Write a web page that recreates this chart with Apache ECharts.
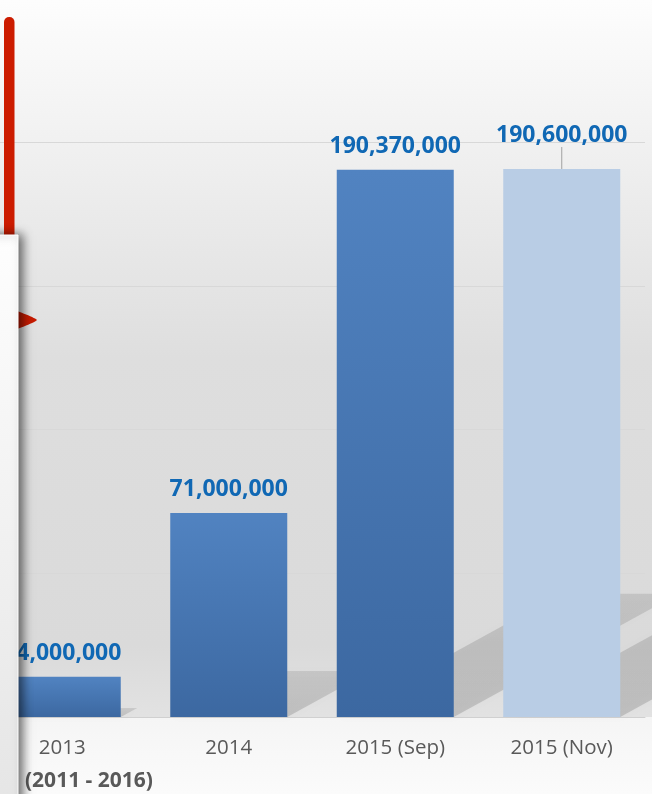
<!DOCTYPE html>
<html>
<head>
<meta charset="utf-8">
<script src="https://cdn.jsdelivr.net/npm/echarts@6/dist/echarts.min.js"></script>
<style>
  html, body { margin: 0; padding: 0; background: #ffffff; overflow: hidden; }
  #chart { width: 673px; height: 794px; margin-left: -21px; }
</style>
</head>
<body>
<div id="chart"></div>
<script>
// ---- data ----
const categories = ['2013', '2014', '2015 (Sep)', '2015 (Nov)'];
const values = [14000000, 71000000, 190370000, 190600000];
const axisTitle = '(2011 - 2016)';
const yMin = 0;
const yMax = 200000000;
const yInterval = 50000000;

// the chart canvas starts 21px left of the visible page
const OX = 21;

const chart = echarts.init(document.getElementById('chart'));
const fmt = v => Number(v).toLocaleString('en-US');

const darkBar = new echarts.graphic.LinearGradient(0, 0, 0, 1, [
  { offset: 0, color: '#5183c1' },
  { offset: 1, color: '#3c68a1' }
]);
const lightBar = '#b9cde5';

function renderShadow(params, api) {
  const idx = api.value(0);
  const v = api.value(1);
  const base = api.coord([idx, 0]);
  const top = api.coord([idx, v]);
  const h = base[1] - top[1];
  const bw = api.size([1, 0])[0] * 0.703;
  const xl = base[0] - bw / 2, xr = base[0] + bw / 2, y0 = base[1];
  const dx = 0.41 * h, dy = 0.225 * h;
  return {
    type: 'polygon',
    shape: { points: [[xl, y0], [xr, y0], [xr + dx, y0 - dy], [xl + dx, y0 - dy]] },
    style: {
      fill: new echarts.graphic.LinearGradient(0, 1, 0, 0, [
        { offset: 0, color: 'rgba(0,0,0,0.15)' },
        { offset: 1, color: 'rgba(0,0,0,0.10)' }
      ]),
      shadowBlur: 8,
      shadowColor: 'rgba(0,0,0,0.12)'
    }
  };
}

const option = {
  animation: false,
  grid: { left: 0, right: 7, top: 142, bottom: 77, containLabel: false },
  xAxis: {
    type: 'category',
    data: categories,
    axisLine: { show: true, lineStyle: { color: '#d0d0d0', width: 1 } },
    axisTick: { show: false },
    axisLabel: { color: '#595959', fontFamily: 'Open Sans', fontSize: 20.5, margin: 21 }
  },
  yAxis: {
    type: 'value',
    min: yMin, max: yMax, interval: yInterval,
    axisLabel: { show: false },
    axisLine: { show: false },
    axisTick: { show: false },
    splitLine: { show: true, lineStyle: { color: '#d8d8d8', width: 1 } }
  },
  graphic: [
    // chart background
    { type: 'rect', z: -100, silent: true, shape: { x: 0, y: 0, width: 673, height: 717 },
      style: { fill: new echarts.graphic.LinearGradient(0, 0, 0, 1, [
        { offset: 0, color: '#fdfdfd' },
        { offset: 0.5, color: '#dedede' },
        { offset: 0.9, color: '#dadada' },
        { offset: 1, color: '#e2e2e2' }
      ]) } },
    { type: 'rect', z: -100, silent: true, shape: { x: 0, y: 717, width: 673, height: 77 },
      style: { fill: new echarts.graphic.LinearGradient(0, 0, 0, 1, [
        { offset: 0, color: '#f5f5f5' },
        { offset: 1, color: '#fbfbfb' }
      ]) } },
    // axis title
    { type: 'text', z: 50, left: 25 + OX, top: 771,
      style: { text: axisTitle, fill: '#595959', font: 'bold 21px "Open Sans"' } },
    // red decorations
    { type: 'rect', z: 90, shape: { x: 4 + OX, y: 17, width: 10.5, height: 230, r: [5, 5, 0, 0] },
      style: { fill: '#cc1c00' } },
    { type: 'polygon', z: 90, shape: { points: [[12 + OX, 310], [37 + OX, 320], [12 + OX, 330]], smooth: 0.15 },
      style: { fill: '#c61a00' } },
    // white side panel
    { type: 'rect', z: 100, shape: { x: 1, y: 235, width: 17 + OX, height: 600 },
      style: {
        fill: new echarts.graphic.LinearGradient(0, 0, 0, 1, [
          { offset: 0, color: '#fefefe' },
          { offset: 1, color: '#e4e4e4' }
        ]),
        stroke: '#ffffff', lineWidth: 1,
        shadowBlur: 10, shadowColor: 'rgba(0,0,0,0.6)', shadowOffsetX: 4
      } }
  ],
  series: [
    {
      type: 'custom',
      z: 1,
      clip: false,
      silent: true,
      renderItem: renderShadow,
      encode: { x: 0, y: 1 },
      data: values.map((v, i) => [i, v])
    },
    {
      type: 'bar',
      z: 3,
      barWidth: 117,
      data: values.map((v, i) => {
        const item = { value: v, itemStyle: { color: i === 3 ? lightBar : darkBar } };
        if (i === 3) {
          item.labelLine = { show: true, lineStyle: { color: '#a0a0a0', width: 1 } };
        }
        return item;
      }),
      labelLayout: p => (p.dataIndex === 3 ? { dy: -10 } : {}),
      labelLine: { show: false },
      label: {
        show: true,
        position: 'top',
        distance: 12,
        color: '#1068b4',
        fontFamily: 'Open Sans',
        fontWeight: 'bold',
        fontSize: 23,
        formatter: p => fmt(p.value)
      }
    }
  ]
};
chart.setOption(option);
</script>
</body>
</html>
